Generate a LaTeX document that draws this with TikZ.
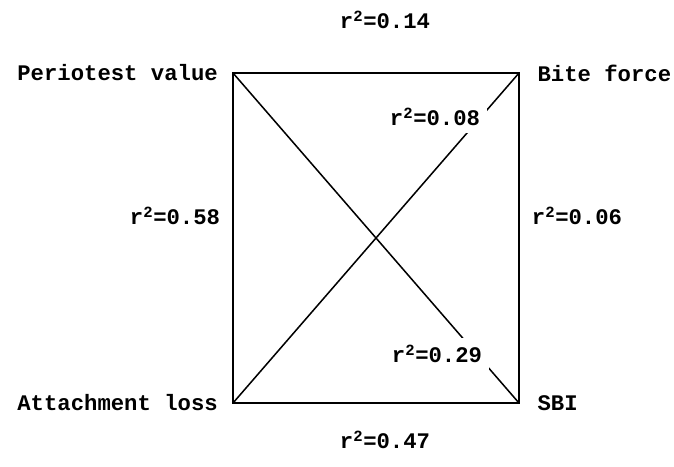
\documentclass[tikz,border=0pt]{standalone}
\usepackage{fontspec}
\setmonofont{Liberation Mono}
\usetikzlibrary{positioning}

\begin{document}
\begin{tikzpicture}[x=0.03cm, y=-0.03cm,
    every node/.style={font=\ttfamily\bfseries\fontsize{19}{22}\selectfont},
    varname/.style={inner sep=0pt},
    rval/.style={fill=white, inner sep=6pt}]
  \useasboundingbox (0,0) rectangle (674,466);

  % Corners
  \coordinate (pv) at (233,73);
  \coordinate (bf) at (519,73);
  \coordinate (sbi) at (519,403);
  \coordinate (al) at (233,403);

  % Frame and diagonals
  \draw[line width=1.3pt] (pv) -- (bf) -- (sbi) -- (al) -- cycle;
  \draw[line width=1.3pt] (pv) -- (sbi);
  \draw[line width=1.3pt] (al) -- (bf);

  % Variables
  \node[varname, left=0.45cm of pv] (pvname) {Periotest value};
  \node[varname, right=0.55cm of bf] (bfname) {Bite force};
  \node[varname, left=0.45cm of al] (alname) {Attachment loss};
  \node[varname, right=0.55cm of sbi] (sbiname) {SBI};

  % Correlations
  \node[rval] (pvbf) at (385,20) {r\textsuperscript{2}=0.14};
  \node[rval] (alsbi) at (385,440) {r\textsuperscript{2}=0.47};
  \node[rval] (pval) at (175,216) {r\textsuperscript{2}=0.58};
  \node[rval] (bfsbi) at (577,216) {r\textsuperscript{2}=0.06};
  \node[rval] (albf) at (435,117) {r\textsuperscript{2}=0.08};
  \node[rval] (pvsbi) at (437,354) {r\textsuperscript{2}=0.29};
\end{tikzpicture}
\end{document}
